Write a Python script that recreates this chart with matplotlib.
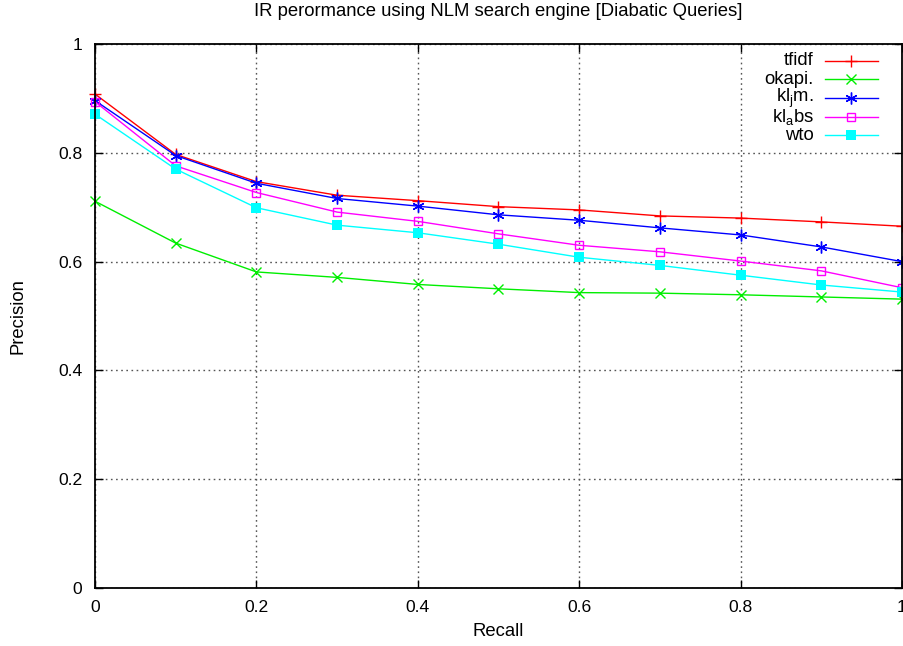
import matplotlib
matplotlib.use("Agg")
import matplotlib.pyplot as plt
from matplotlib.lines import Line2D

plt.rcParams['font.family'] = ['Liberation Sans', 'DejaVu Sans']

recall = [0.0, 0.1, 0.2, 0.3, 0.4, 0.5, 0.6, 0.7, 0.8, 0.9, 1.0]
tfidf = [0.908, 0.797, 0.747, 0.722, 0.712, 0.701, 0.695, 0.684, 0.680, 0.673, 0.665]
okapi = [0.711, 0.634, 0.581, 0.571, 0.558, 0.550, 0.543, 0.542, 0.539, 0.535, 0.531]
kl_jm = [0.896, 0.795, 0.744, 0.716, 0.702, 0.686, 0.676, 0.662, 0.649, 0.627, 0.600]
kl_abs = [0.894, 0.776, 0.727, 0.691, 0.674, 0.651, 0.630, 0.618, 0.601, 0.583, 0.552]
wto = [0.871, 0.770, 0.699, 0.667, 0.653, 0.632, 0.608, 0.593, 0.575, 0.557, 0.544]

ticks = [0, 0.2, 0.4, 0.6, 0.8, 1.0]
tick_labels = ["0", "0.2", "0.4", "0.6", "0.8", "1"]

series = [
    ("tfidf", tfidf, dict(color="#ff0000", marker="+", markersize=9, mew=1.0)),
    ("okapi.", okapi, dict(color="#00ee00", marker="x", markersize=6.5, mew=1.0)),
    (r"kl$_\mathregular{j}$m.", kl_jm, dict(color="#0000ff", marker=(6, 2, 0), markersize=8.5, mew=1.0)),
    (r"kl$_\mathregular{a}$bs", kl_abs, dict(color="#ff00ff", marker="s", markersize=6.3, mfc="none", mew=1.0)),
    ("wto", wto, dict(color="#00ffff", marker="s", markersize=6.5, mew=0)),
]

FS = 13.3
TICK_FS = 12.6

fig = plt.figure(figsize=(9.04, 6.46), dpi=100)
ax = fig.add_axes([95 / 904, 58 / 646, 807 / 904, 544 / 646])

for label, vals, style in series:
    ax.plot(recall, vals, lw=1.0, clip_on=False, zorder=3, **style)

ax.set_xlim(0, 1)
ax.set_ylim(0, 1)
ax.set_xticks(ticks)
ax.set_xticklabels(tick_labels)
ax.set_yticks(ticks)
ax.set_yticklabels(tick_labels)
ax.tick_params(direction="in", length=6, width=1, top=True, right=True,
               labelsize=TICK_FS, pad=9)
ax.grid(True, linestyle=(0, (1.2, 2.5)), color="#555555", lw=1.0)
for sp in ax.spines.values():
    sp.set_linewidth(1.3)
    sp.set_zorder(4)

fig.text((95 + 902) / 2 / 904, 1 - 12 / 646,
         "IR perormance using NLM search engine [Diabatic Queries]",
         ha="center", va="center", fontsize=FS)
fig.text((95 + 902) / 2 / 904, 1 - 632 / 646, "Recall",
         ha="center", va="center", fontsize=FS)
fig.text(18 / 904, 1 - 316 / 646, "Precision", rotation=90,
         ha="center", va="center", fontsize=FS)

# key block in the upper right, labels right-aligned before the samples
key_y = [60.7, 79.4, 98.0, 116.7, 135.4]
for (label, vals, style), py in zip(series, key_y):
    yf = 1 - (py - 44) / 544
    x0 = (825 - 95) / 807
    x1 = (878 - 95) / 807
    ax.add_line(Line2D([x0, x1], [yf, yf], transform=ax.transAxes, lw=1.0,
                       color=style["color"], zorder=5))
    mstyle = {k: v for k, v in style.items() if k != "color"}
    ax.add_line(Line2D([(x0 + x1) / 2], [yf], transform=ax.transAxes,
                       color=style["color"], zorder=5, **mstyle))
    ax.text((814 - 95) / 807, yf, label, transform=ax.transAxes,
            ha="right", va="center", fontsize=FS, zorder=5)

fig.savefig("out.png", dpi=100)
